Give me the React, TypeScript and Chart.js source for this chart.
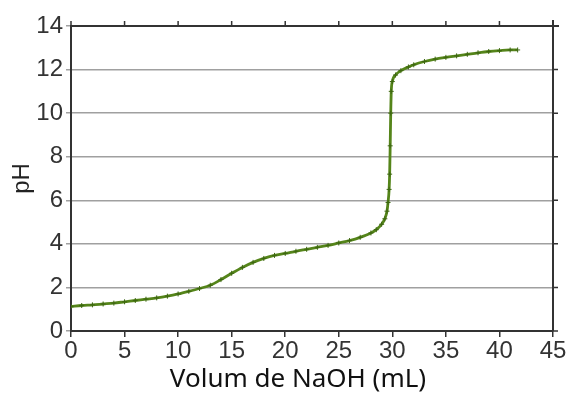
import React, { useEffect, useRef } from "react";
import { Chart, registerables } from "chart.js";

Chart.register(...registerables);

const volumes = [0, 1, 2, 3, 4, 5, 6, 7, 8, 9, 10, 11, 12, 13, 14, 15, 16, 17, 18, 19, 20, 21, 22, 23, 24, 25, 26, 27, 28, 28.5, 29, 29.3, 29.5, 29.6, 29.7, 29.75, 29.8, 29.85, 29.9, 30, 30.3, 30.8, 31.5, 32, 33, 34, 35, 36, 37, 38, 39, 40, 41, 41.7];
const phValues = [1.12, 1.17, 1.2, 1.24, 1.28, 1.34, 1.4, 1.46, 1.52, 1.6, 1.7, 1.82, 1.95, 2.1, 2.36, 2.65, 2.92, 3.15, 3.33, 3.47, 3.56, 3.66, 3.75, 3.84, 3.93, 4.04, 4.15, 4.3, 4.5, 4.65, 4.9, 5.15, 5.5, 5.9, 6.5, 7.2, 8.5, 10, 11.0, 11.45, 11.75, 11.95, 12.12, 12.22, 12.37, 12.48, 12.56, 12.63, 12.7, 12.77, 12.83, 12.87, 12.9, 12.9];
const xTicks = [0, 5, 10, 15, 20, 25, 30, 35, 40, 45];
const yTicks = [0, 2, 4, 6, 8, 10, 12, 14];
const xTitle = "Volum de NaOH (mL)";
const yTitle = "pH";

const frameColor = "#333333";

const framePlugin = {
  id: "frame",
  afterDatasetsDraw(chart: any) {
    const { ctx, chartArea, scales } = chart;
    const { left, right, top, bottom } = chartArea;
    ctx.save();
    ctx.strokeStyle = frameColor;
    ctx.lineWidth = 2;
    ctx.beginPath();
    ctx.moveTo(left, top);
    ctx.lineTo(right + 6, top);
    ctx.moveTo(right, top - 6);
    ctx.lineTo(right, bottom);
    ctx.stroke();
    ctx.lineWidth = 1.5;
    ctx.beginPath();
    xTicks.forEach((v) => {
      const px = scales.x.getPixelForValue(v);
      ctx.moveTo(px, top);
      ctx.lineTo(px, top - 5);
    });
    yTicks.forEach((v) => {
      const py = scales.y.getPixelForValue(v);
      ctx.moveTo(right, py);
      ctx.lineTo(right + 5, py);
    });
    ctx.stroke();
    // x axis title
    ctx.fillStyle = "#111111";
    ctx.font = "26px 'Noto Sans'";
    ctx.textAlign = "center";
    ctx.textBaseline = "middle";
    ctx.fillText(xTitle, 298, 380);
    ctx.restore();
  },
};

export default function App() {
  const ref = useRef<HTMLCanvasElement>(null);
  useEffect(() => {
    document.body.style.margin = "0";
    const chart = new Chart(ref.current!, {
      type: "scatter",
      data: {
        datasets: [
          {
            data: volumes.map((v, i) => ({ x: v, y: phValues[i] })),
            showLine: true,
            borderColor: "#55851a",
            borderWidth: 2.8,
            pointStyle: "cross",
            pointRadius: 2.5,
            pointBorderColor: "#3d6612",
            pointBorderWidth: 1,
            cubicInterpolationMode: "monotone",
          },
        ],
      },
      plugins: [framePlugin],
      options: {
        animation: false,
        responsive: false,
        devicePixelRatio: 1,
        layout: { padding: { top: 26, right: 15, left: 0, bottom: 0 } },
        plugins: { legend: { display: false }, tooltip: { enabled: false } },
        scales: {
          x: {
            type: "linear",
            min: 0,
            max: 45,
            afterFit(scale: any) {
              scale.height = 72;
            },
            afterBuildTicks(scale: any) {
              scale.ticks = xTicks.map((v) => ({ value: v }));
            },
            grid: { drawOnChartArea: false, drawTicks: true, tickLength: 6, color: frameColor, lineWidth: 1.5 },
            border: { color: frameColor, width: 2 },
            ticks: {
              font: { family: "'Liberation Sans'", size: 24 },
              color: "#333333",
              padding: 0,
              maxRotation: 0,
            },
          },
          y: {
            type: "linear",
            min: 0,
            max: 14,
            afterFit(scale: any) {
              scale.width = 71;
            },
            afterBuildTicks(scale: any) {
              scale.ticks = yTicks.map((v) => ({ value: v }));
            },
            grid: {
              drawOnChartArea: true,
              drawTicks: true,
              tickLength: 5,
              color: "#a0a0a0",
              lineWidth: 1.5,
            },
            border: { color: frameColor, width: 2 },
            ticks: {
              font: { family: "'Liberation Sans'", size: 24 },
              color: "#333333",
              padding: 3,
            },
            title: {
              display: true,
              text: yTitle,
              font: { family: "'Liberation Sans'", size: 24 },
              color: "#222222",
              padding: { top: 8, bottom: 0 },
            },
          },
        },
      },
    });
    return () => chart.destroy();
  }, []);
  return (
    <div style={{ position: "fixed", left: 0, top: 0, width: 568, height: 403, background: "#fff" }}>
      <canvas ref={ref} width={568} height={403} style={{ width: 568, height: 403 }} />
    </div>
  );
}
